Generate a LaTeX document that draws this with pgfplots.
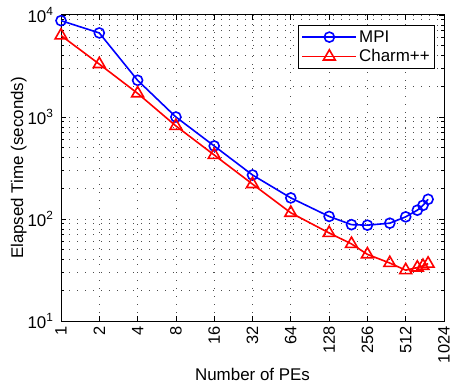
\documentclass[border=0pt]{standalone}
\usepackage{fontspec}
\setmainfont{Liberation Sans}
\usepackage{pgfplots}
\pgfplotsset{compat=1.18}
\begin{document}
\begin{tikzpicture}
\begin{axis}[
  name=ax,
  scale only axis,
  width=383bp, height=306bp,
  xmode=log, ymode=log, log basis x=2,
  xmin=1, xmax=1024, ymin=10, ymax=10000,
  xtick={1,2,4,8,16,32,64,128,256,512,1024},
  xticklabels={1,2,4,8,16,32,64,128,256,512,1024},
  xticklabel style={rotate=90, anchor=east, font=\fontsize{16.5}{19}\selectfont, xshift=-2bp},
  ytick={10,100,1000,10000},
  yticklabels={10\textsuperscript{1},10\textsuperscript{2},10\textsuperscript{3},10\textsuperscript{4}},
  yticklabel style={font=\fontsize{17}{19}\selectfont, xshift=-4bp},
  xlabel={Number of PEs},
  ylabel={Elapsed Time (seconds)},
  label style={font=\fontsize{17}{19}\selectfont},
  xlabel style={yshift=2bp},
  ylabel style={yshift=-6bp},
  tick align=inside,
  major tick length=5bp, minor tick length=3bp,
  xmajorgrids, ymajorgrids, yminorgrids,
  grid style={black!70, line width=0.7bp, dash pattern=on 0.7bp off 7.3bp},
  minor grid style={black!70, line width=0.7bp, dash pattern=on 0.7bp off 7.3bp},
  axis line style={line width=1bp},
  every tick/.style={black, line width=0.7bp},
  legend style={at={(rel axis cs:0.977,0.967)}, anchor=north east,
    font=\fontsize{17}{19}\selectfont, draw=black, line width=0.9bp,
    inner sep=3bp, row sep=2bp},
  legend cell align=left,
  legend image code/.code={
    \draw[#1] (0bp,0bp) -- (54bp,0bp);
    \draw[#1, only marks] plot coordinates {(27bp,0bp)};
  },
]
\addplot[blue, line width=1.6bp, mark=o, mark size=5bp, mark options={line width=1.6bp}]
coordinates {
(1,8800) (2,6670) (4,2290) (8,1000) (16,520) (32,270) (64,161) (128,106)
(192,88) (256,87) (384,91) (512,105) (632,122) (700,136) (768,156)
};
\addlegendentry{MPI}
\addplot[red, line width=1.6bp, mark=triangle, mark size=6.8bp, mark options={line width=1.6bp}]
coordinates {
(1,6300) (2,3300) (4,1706) (8,817) (16,424) (32,220) (64,115) (128,73)
(192,57) (256,45) (384,37) (512,31.5) (632,33.4) (700,34.7) (768,36.5)
};
\addlegendentry{Charm++}
\end{axis}
\pgfresetboundingbox
\path[use as bounding box] ([shift={(-61bp,-63bp)}]ax.south west) rectangle ([shift={(8bp,15bp)}]ax.north east);
\end{tikzpicture}
\end{document}
